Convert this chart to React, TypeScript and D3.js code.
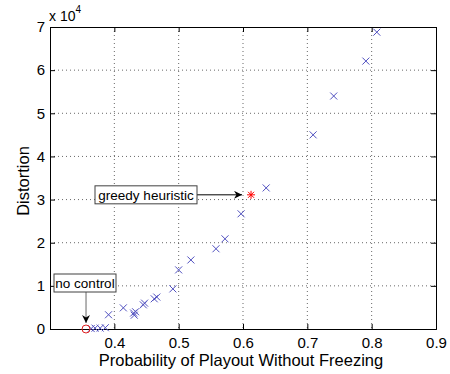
import React, { useEffect, useRef } from "react";
import * as d3 from "d3";

// probability of playout without freezing
const probs = [0.364, 0.370, 0.378, 0.386, 0.391, 0.414, 0.430, 0.431, 0.433, 0.445, 0.447,
  0.462, 0.466, 0.491, 0.500, 0.519, 0.558, 0.572, 0.597, 0.636, 0.709, 0.741, 0.791, 0.808];
// distortion, x 10^4
const distortion = [0.01, 0.02, 0.02, 0.03, 0.33, 0.49, 0.37, 0.32, 0.40, 0.56, 0.60,
  0.70, 0.74, 0.93, 1.37, 1.60, 1.86, 2.09, 2.67, 3.27, 4.50, 5.40, 6.21, 6.88];

const noControl = { x: 0.356, y: 0 };
const greedy = { x: 0.6125, y: 3.11 };

const xTicks = [0.4, 0.5, 0.6, 0.7, 0.8, 0.9];
const yTicks = [0, 1, 2, 3, 4, 5, 6, 7];

const width = 450;
const height = 374;

const App: React.FC = () => {
  const svgRef = useRef<SVGSVGElement>(null);

  useEffect(() => {
    if (!svgRef.current) return;
    const svg = d3.select(svgRef.current);
    svg.selectAll("*").remove();

    const margin = { top: 27, right: 14, bottom: 45, left: 50 };
    const iw = width - margin.left - margin.right;
    const ih = height - margin.top - margin.bottom;
    const font = "Arial, 'Liberation Sans', sans-serif";

    const x = d3.scaleLinear().domain([0.3, 0.9]).range([0, iw]);
    const y = d3.scaleLinear().domain([0, 7]).range([ih, 0]);

    const defs = svg.append("defs");
    defs.append("marker")
      .attr("id", "arrow")
      .attr("viewBox", "0 0 10 10")
      .attr("refX", 10)
      .attr("refY", 5)
      .attr("markerWidth", 10)
      .attr("markerHeight", 8)
      .attr("markerUnits", "userSpaceOnUse")
      .attr("orient", "auto")
      .append("path")
      .attr("d", "M0,0 L10,5 L0,10 L3,5 Z")
      .attr("fill", "#000");

    const g = svg.append("g")
      .attr("transform", `translate(${margin.left},${margin.top})`);

    // grid
    g.append("g").selectAll("line")
      .data(xTicks.slice(0, -1))
      .join("line")
      .attr("x1", d => x(d)).attr("x2", d => x(d))
      .attr("y1", 0).attr("y2", ih)
      .attr("stroke", "#000")
      .attr("stroke-width", 0.6)
      .attr("stroke-dasharray", "1 3");
    g.append("g").selectAll("line")
      .data(yTicks.slice(1, -1))
      .join("line")
      .attr("x1", 0).attr("x2", iw)
      .attr("y1", d => y(d)).attr("y2", d => y(d))
      .attr("stroke", "#000")
      .attr("stroke-width", 0.6)
      .attr("stroke-dasharray", "1 3");

    // axes
    const xAxis = g.append("g")
      .attr("transform", `translate(0,${ih})`)
      .call(d3.axisBottom(x).tickValues(xTicks).tickSize(-5).tickPadding(8).tickFormat(d3.format(".1f")));
    const yAxis = g.append("g")
      .call(d3.axisLeft(y).tickValues(yTicks).tickSize(-5).tickPadding(5).tickFormat(d3.format("d")));
    g.append("g")
      .attr("transform", `translate(${iw},0)`)
      .call(d3.axisRight(y).tickValues(yTicks).tickSize(-5).tickFormat(() => ""));
    g.append("g")
      .call(d3.axisTop(x).tickValues(xTicks).tickSize(-5).tickFormat(() => ""));

    g.selectAll(".domain").attr("stroke", "#000");
    g.selectAll(".tick line").attr("stroke", "#000");
    [xAxis, yAxis].forEach(a => a.selectAll("text")
      .style("font-size", "15px")
      .style("font-family", font)
      .attr("fill", "#000"));

    // markers
    const s = 3.5;
    const crosses = g.append("g")
      .attr("stroke", "#5050c0")
      .attr("stroke-width", 1);
    crosses.selectAll("path")
      .data(probs.map((p, i) => ({ x: p, y: distortion[i] })))
      .join("path")
      .attr("d", d => {
        const cx = x(d.x), cy = y(d.y);
        return `M${cx - s},${cy - s}L${cx + s},${cy + s}M${cx - s},${cy + s}L${cx + s},${cy - s}`;
      });

    // no control point
    g.append("circle")
      .attr("cx", x(noControl.x))
      .attr("cy", y(noControl.y))
      .attr("r", 4)
      .attr("fill", "none")
      .attr("stroke", "#e02020")
      .attr("stroke-width", 1);

    // greedy star
    const gx = x(greedy.x), gy = y(greedy.y);
    g.append("path")
      .attr("d", `M${gx - 4},${gy}L${gx + 4},${gy}M${gx},${gy - 4}L${gx},${gy + 4}M${gx - 3},${gy - 3}L${gx + 3},${gy + 3}M${gx - 3},${gy + 3}L${gx + 3},${gy - 3}`)
      .attr("stroke", "#ff0000")
      .attr("stroke-width", 1);

    // annotations
    const nc = { left: 4, top: ih - 55, w: 62, h: 18 };
    g.append("line")
      .attr("x1", x(noControl.x)).attr("y1", nc.top + nc.h)
      .attr("x2", x(noControl.x)).attr("y2", y(noControl.y) - 6)
      .attr("stroke", "#808080")
      .attr("stroke-width", 1.2)
      .attr("marker-end", "url(#arrow)");
    g.append("rect")
      .attr("x", nc.left).attr("y", nc.top)
      .attr("width", nc.w).attr("height", nc.h)
      .attr("fill", "#fff").attr("stroke", "#404040");
    g.append("text")
      .attr("x", nc.left + nc.w / 2).attr("y", nc.top + 14)
      .attr("text-anchor", "middle")
      .style("font-size", "13.5px").style("font-family", font)
      .text("no control");

    const gh = { left: 45, top: y(greedy.y) - 9, w: 102, h: 18 };
    g.append("line")
      .attr("x1", gh.left + gh.w).attr("y1", gy)
      .attr("x2", gx - 9).attr("y2", gy)
      .attr("stroke", "#000")
      .attr("stroke-width", 1)
      .attr("marker-end", "url(#arrow)");
    g.append("rect")
      .attr("x", gh.left).attr("y", gh.top)
      .attr("width", gh.w).attr("height", gh.h)
      .attr("fill", "#fff").attr("stroke", "#404040");
    g.append("text")
      .attr("x", gh.left + gh.w / 2).attr("y", gh.top + 14)
      .attr("text-anchor", "middle")
      .style("font-size", "13.5px").style("font-family", font)
      .text("greedy heuristic");

    // labels
    svg.append("text")
      .attr("x", margin.left + iw / 2 - 2)
      .attr("y", 366)
      .attr("text-anchor", "middle")
      .style("font-size", "16.5px").style("font-family", font)
      .text("Probability of Playout Without Freezing");
    svg.append("text")
      .attr("transform", `translate(29,${margin.top + ih / 2 + 3}) rotate(-90)`)
      .attr("text-anchor", "middle")
      .style("font-size", "16.5px").style("font-family", font)
      .text("Distortion");

    const exp = svg.append("text")
      .attr("x", 49).attr("y", 21)
      .style("font-size", "14px").style("font-family", font);
    exp.append("tspan").text("x 10");
    exp.append("tspan").attr("dy", -8).style("font-size", "10px").text("4");
  }, []);

  return <svg ref={svgRef} width={width} height={height}
    style={{ position: "absolute", left: 0, top: 0, background: "#fff" }} />;
};

export default App;
